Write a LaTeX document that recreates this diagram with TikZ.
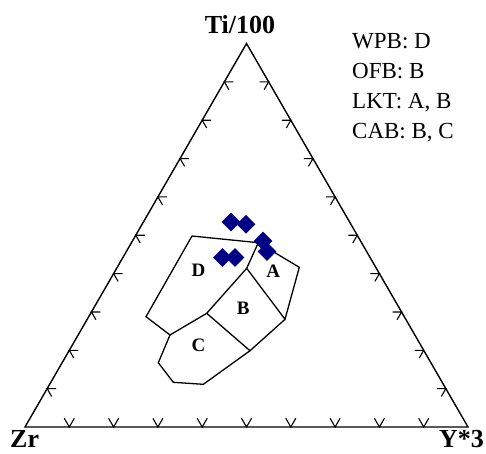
\documentclass[tikz,border=0pt]{standalone}
\usepackage{fontspec}
\setmainfont{Liberation Serif}
\usetikzlibrary{calc,shapes.geometric}
\definecolor{dotblue}{RGB}{0,0,135}
\begin{document}
\begin{tikzpicture}[x=1pt,y=-1pt,
  frame/.style={line width=1.4pt,line join=miter},
  field/.style={line width=1.3pt,line join=miter},
  tick/.style={line width=1.1pt},
  corner/.style={font=\fontsize{26}{30}\selectfont\bfseries,inner sep=0pt},
  legend/.style={font=\fontsize{23}{27}\selectfont,inner sep=0pt,anchor=base west},
  flabel/.style={font=\fontsize{19}{22}\selectfont\bfseries,inner sep=0pt},
  sample/.style={diamond,fill=dotblue,draw=none,minimum width=19pt,minimum height=19pt,inner sep=0pt,aspect=1}]
\useasboundingbox (0,0) rectangle (486,453);
% corners
\coordinate (Z) at (25,427);
\coordinate (Y) at (468,427);
\coordinate (T) at (246.5,43.5);
\draw[frame] (Z) -- (Y) -- (T) -- cycle;
% ticks
\foreach \k in {1,...,9}{
  \coordinate (b\k) at ($(Z)!\k/10!(Y)$);
  \draw[tick] ($(b\k)+(-5,-8.7)$) -- (b\k) -- ($(b\k)+(5,-8.7)$);
  \coordinate (l\k) at ($(Z)!\k/10!(T)$);
  \draw[tick] ($(l\k)+(9,0)$) -- (l\k) -- ($(l\k)+(4.5,7.8)$);
  \coordinate (r\k) at ($(Y)!\k/10!(T)$);
  \draw[tick] ($(r\k)+(-9,0)$) -- (r\k) -- ($(r\k)+(-4.5,7.8)$);
}
% corner labels
\node[corner,anchor=base] (tlab) at (240,33.3) {Ti/100};
\node[corner,anchor=base west] (zlab) at (10,447) {Zr};
\node[corner,anchor=base east] (ylab) at (484,447) {Y*3};
% legend
\node[legend] (w) at (352,48.3) {WPB: D};
\node[legend] (o) at (352,78.3) {OFB: B};
\node[legend] (l) at (352,108.3) {LKT: A, B};
\node[legend] (c) at (352,138.3) {CAB: B, C};
% fields
\coordinate (p1) at (192,236);
\coordinate (p2) at (258.3,242.7);
\coordinate (p3) at (246.7,268.3);
\coordinate (p4) at (206.7,313.3);
\coordinate (p5) at (170,335);
\coordinate (p6) at (146,316.7);
\coordinate (a1) at (299.3,267.3);
\coordinate (a2) at (285,319.3);
\coordinate (b1) at (250,350.7);
\coordinate (c1) at (203.3,384.3);
\coordinate (c2) at (173.3,382.3);
\coordinate (c3) at (158.3,362.7);
\draw[field] (p1) -- (p2) -- (p3) -- (p4) -- (p5) -- (p6) -- cycle;
\draw[field] (p2) -- (a1) -- (a2) -- (p3);
\draw[field] (a2) -- (b1) -- (p4);
\draw[field] (b1) -- (c1) -- (c2) -- (c3) -- (p5);
\node[flabel] (fd) at (198.5,270.5) {D};
\node[flabel] (fa) at (273.3,271.5) {A};
\node[flabel] (fb) at (243.3,308.3) {B};
\node[flabel] (fc) at (198.5,345) {C};
% samples
\node[sample] (d1) at (231,222) {};
\node[sample] (d2) at (246,224.3) {};
\node[sample] (d3) at (263,241) {};
\node[sample] (d4) at (267,251.5) {};
\node[sample] (d5) at (222.5,257.5) {};
\node[sample] (d6) at (235,257.5) {};
\end{tikzpicture}
\end{document}
